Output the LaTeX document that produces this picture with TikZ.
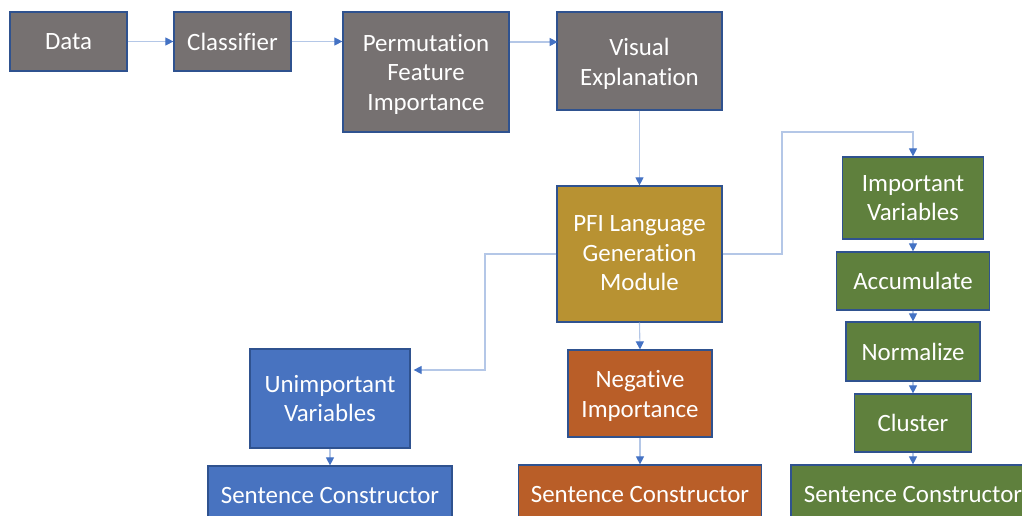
\documentclass[tikz,border=0pt]{standalone}
\usepackage{fontspec}
\setmainfont{Carlito}[RawFeature={-liga}]
\usetikzlibrary{arrows.meta}
\definecolor{cgray}{RGB}{118,113,113}
\definecolor{cgold}{RGB}{184,146,50}
\definecolor{cgreen}{RGB}{95,128,61}
\definecolor{cblue}{RGB}{72,115,192}
\definecolor{corange}{RGB}{185,94,40}
\definecolor{cborder}{RGB}{47,82,143}
\definecolor{cline}{RGB}{180,199,231}
\definecolor{ctip}{RGB}{68,114,196}
\newcommand{\lowtxt}[2]{\raisebox{-#1bp}[\height][\depth]{\begin{tabular}{@{}c@{}}#2\end{tabular}}}
\tikzset{
  box/.style={draw=cborder, line width=1.2bp, rectangle, inner sep=0pt, align=center,
    text=white, font=\fontsize{25}{29.6}\selectfont},
  conn/.style={draw=cline, line width=1.1bp, -{Triangle[length=8bp,width=8bp,color=ctip]}},
}
\begin{document}
\begin{tikzpicture}[x=1bp,y=-1bp]
\useasboundingbox (0,0) rectangle (1022,516);
\clip (0,0) rectangle (1022,516);
% top row
\node[box, fill=cgray, minimum width=117bp, minimum height=59bp] (data) at (68.5,41.5) {Data};
\node[box, fill=cgray, minimum width=117bp, minimum height=59bp] (clf) at (232.5,41.5) {Classifier};
\node[box, fill=cgray, minimum width=166bp, minimum height=120bp] (pfi0) at (426,72) {\lowtxt{3}{Permutation\\Feature\\Importance}};
\node[box, fill=cgray, minimum width=165bp, minimum height=98bp] (vis) at (639.5,61) {\lowtxt{3.5}{Visual\\Explanation}};
% module
\node[box, fill=cgold, minimum width=165bp, minimum height=136bp] (pfi) at (639.5,254) {\lowtxt{1.5}{PFI Language\\Generation\\Module}};
% green column
\node[box, fill=cgreen, minimum width=141bp, minimum height=82bp] (imp) at (913,198) {Important\\Variables};
\node[box, fill=cgreen, minimum width=153bp, minimum height=58bp] (acc) at (913,281) {Accumulate};
\node[box, fill=cgreen, minimum width=134bp, minimum height=59bp] (norm) at (913,351.5) {Normalize};
\node[box, fill=cgreen, minimum width=117bp, minimum height=58bp] (clu) at (913,423) {Cluster};
\node[box, fill=cgreen, minimum width=244bp, minimum height=60bp] (sg) at (913,495) {Sentence Constructor};
% blue column
\node[box, fill=cblue, minimum width=160bp, minimum height=99bp] (unimp) at (330,398.5) {Unimportant\\Variables};
\node[box, fill=cblue, minimum width=244bp, minimum height=60bp] (sb) at (330,496) {Sentence Constructor};
% orange column
\node[box, fill=corange, minimum width=144bp, minimum height=87bp] (neg) at (640,393.5) {\lowtxt{3}{Negative\\Importance}};
\node[box, fill=corange, minimum width=243bp, minimum height=60bp] (so) at (640,495) {Sentence Constructor};
% connectors
\draw[conn] (data.east) -- (clf.west);
\draw[conn] (clf.east) -- (pfi0.west |- clf.east);
\draw[conn] (pfi0.east |- vis.west) ++(0,-19) -- ++(48,0);
\draw[conn] (vis.south) -- (pfi.north);
\draw[conn] (pfi.south) -- (neg.north);
\draw[conn] (neg.south) -- (so.north);
\draw[conn] (unimp.south) -- (sb.north);
\draw[conn] (pfi.east) -| (782,132) -| (imp.north);
\draw[conn] (pfi.west) -| (485,370) -- ([xshift=3bp]unimp.east |- 485,370);
\draw[conn] (imp.south) -- (acc.north);
\draw[conn] (acc.south) -- (norm.north);
\draw[conn] (norm.south) -- (clu.north);
\draw[conn] (clu.south) -- (sg.north);
\end{tikzpicture}
\end{document}
